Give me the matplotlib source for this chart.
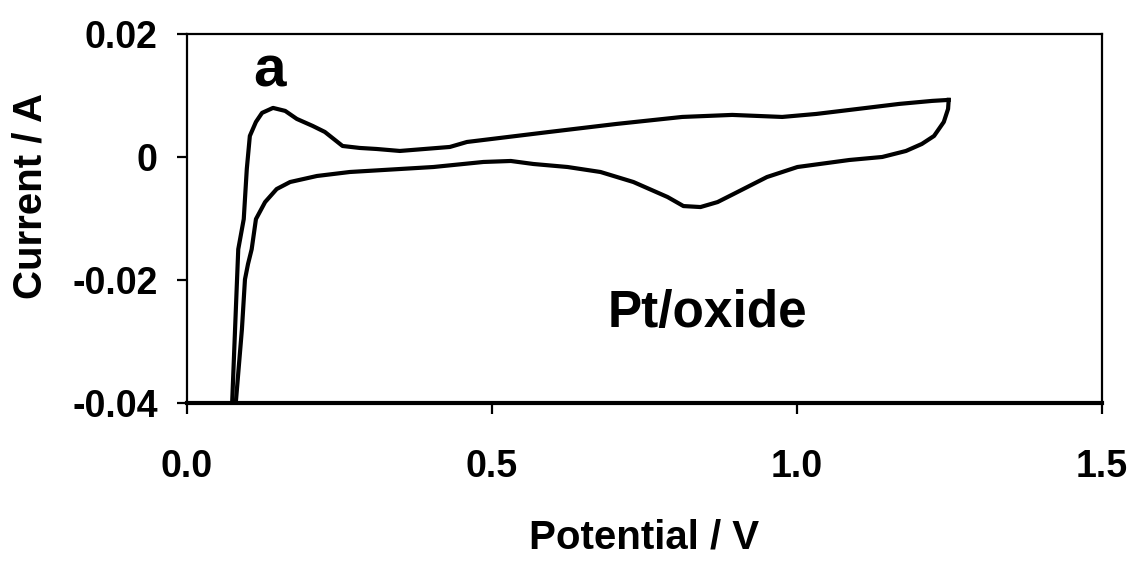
import matplotlib
matplotlib.use("Agg")
import matplotlib.pyplot as plt

plt.rcParams['font.family'] = ['Liberation Sans', 'DejaVu Sans']
plt.rcParams['font.weight'] = 'bold'

# anodic sweep (upper branch), potential in V, current in A
anodic_v = [0.074, 0.082, 0.084, 0.093, 0.098, 0.103, 0.113, 0.123, 0.141, 0.161,
            0.180, 0.206, 0.226, 0.255, 0.283, 0.311, 0.349, 0.431, 0.459, 0.594,
            0.704, 0.812, 0.894, 0.976, 1.032, 1.114, 1.168, 1.222, 1.249]
anodic_i = [-0.0399, -0.0199, -0.0150, -0.0101, -0.00195, 0.00342, 0.00570, 0.00717,
            0.00798, 0.00749, 0.00619, 0.00505, 0.00407, 0.00179, 0.00147, 0.00130,
            0.00098, 0.00163, 0.00244, 0.00407, 0.00537, 0.00651, 0.00684, 0.00651,
            0.00700, 0.00798, 0.00863, 0.00912, 0.00928]

# cathodic sweep (lower branch)
cathodic_v = [1.249, 1.248, 1.241, 1.225, 1.205, 1.179, 1.140, 1.086, 1.001, 0.951,
              0.896, 0.870, 0.842, 0.814, 0.788, 0.732, 0.678, 0.624, 0.568, 0.531,
              0.486, 0.404, 0.350, 0.267, 0.213, 0.169, 0.147, 0.128, 0.113, 0.106,
              0.100, 0.095, 0.090, 0.080]
cathodic_i = [0.00928, 0.00782, 0.00570, 0.00342, 0.00212, 0.00098, 0.0, -0.00049,
              -0.00163, -0.00326, -0.00603, -0.00733, -0.00814, -0.00798, -0.00651,
              -0.00407, -0.00244, -0.00163, -0.00114, -0.00065, -0.00081, -0.00163,
              -0.00195, -0.00244, -0.00309, -0.00407, -0.00521, -0.00733, -0.0101,
              -0.0150, -0.0174, -0.0199, -0.0280, -0.0399]

x_ticks = [0.0, 0.5, 1.0, 1.5]
x_tick_labels = ['0.0', '0.5', '1.0', '1.5']
y_ticks = [-0.04, -0.02, 0.0, 0.02]
y_tick_labels = ['-0.04', '-0.02', '0', '0.02']

fig = plt.figure(figsize=(11.37, 5.73), dpi=100)
ax = fig.add_axes([0.1645, 0.2967, 0.8045, 0.644])

ax.plot(anodic_v, anodic_i, color='black', lw=3)
ax.plot(cathodic_v, cathodic_i, color='black', lw=3)

ax.set_xlim(0, 1.5)
ax.set_ylim(-0.04, 0.02)
ax.set_xticks(x_ticks)
ax.set_xticklabels(x_tick_labels)
ax.set_yticks(y_ticks)
ax.set_yticklabels(y_tick_labels)

for s in ['top', 'right', 'left']:
    ax.spines[s].set_linewidth(1.6)
ax.spines['bottom'].set_linewidth(3)

ax.tick_params(axis='y', direction='out', length=7, width=1.6, pad=14, labelsize=27)
ax.tick_params(axis='x', direction='out', length=8, width=1.6, pad=25, labelsize=27)

ax.set_xlabel('Potential / V', fontsize=29, fontweight='bold', labelpad=24)
ax.set_ylabel('Current / A', fontsize=29, fontweight='bold')
ax.yaxis.set_label_coords(-0.150, 0.56)

ax.text(0.108, 0.0114, 'a', fontsize=42, fontweight='bold', ha='left', va='baseline')
ax.text(0.854, -0.0277, 'Pt/oxide', fontsize=37, fontweight='bold', ha='center', va='baseline')

fig.savefig('out.png', dpi=100)
